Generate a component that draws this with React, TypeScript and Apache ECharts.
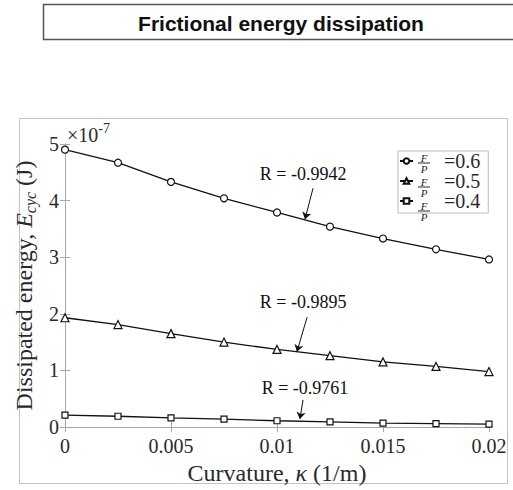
import React, { useEffect, useRef } from "react";
import * as echarts from "echarts";

const curvature = [0, 0.0025, 0.005, 0.0075, 0.01, 0.0125, 0.015, 0.0175, 0.02];
const energy06 = [4.9, 4.67, 4.33, 4.04, 3.79, 3.54, 3.33, 3.14, 2.96];
const energy05 = [1.93, 1.81, 1.65, 1.5, 1.37, 1.26, 1.15, 1.07, 0.98];
const energy04 = [0.21, 0.19, 0.16, 0.14, 0.11, 0.09, 0.07, 0.06, 0.05];
const ratioLabels = ["=0.6", "=0.5", "=0.4"];
const seriesNames = ["F/P =0.6", "F/P =0.5", "F/P =0.4"];
const rLabels = ["R = -0.9942", "R = -0.9895", "R = -0.9761"];
// annotation anchors in data space: text, arrow start, arrow end
const rText = [[0.01123, 4.47], [0.01123, 2.21], [0.01132, 0.69]];
const rArrowFrom = [[0.0117, 4.22], [0.01142, 1.94], [0.01123, 0.48]];
const rArrowTo = [[0.01132, 3.67], [0.01094, 1.33], [0.01108, 0.14]];

const SERIF = "Liberation Serif";
const INK = "#111";
const AX = "#a8a8a8";
const LABEL = "#2a2a2a";

export default function App() {
  const ref = useRef<HTMLDivElement>(null);
  useEffect(() => {
    document.body.style.margin = "0";
    const chart = echarts.init(ref.current!, null, { renderer: "svg" });
    const allSeries = [energy06, energy05, energy04];
    const symbols = ["circle", "triangle", "rect"];
    const sizes = [7, 8, 6];
    const series: any[] = allSeries.map((vals, i) => ({
      name: seriesNames[i],
      type: "line",
      data: curvature.map((x, j) => [x, vals[j]]),
      symbol: symbols[i],
      symbolSize: sizes[i],
      showSymbol: true,
      lineStyle: { color: INK, width: 1.3 },
      itemStyle: { color: "#fff", borderColor: INK, borderWidth: 1.2 },
      z: 3,
      markLine: {
        silent: true,
        symbol: ["none", "arrow"],
        symbolSize: 7,
        label: { show: false },
        lineStyle: { color: INK, width: 1, type: "solid" },
        data: [[{ coord: rArrowFrom[i] }, { coord: rArrowTo[i] }]],
      },
      markPoint: {
        silent: true,
        symbol: "circle",
        symbolSize: 1,
        itemStyle: { color: "transparent" },
        label: {
          show: true,
          position: "inside",
          formatter: rLabels[i],
          fontFamily: SERIF,
          fontSize: 18,
          color: INK,
        },
        data: [{ coord: rText[i] }],
      },
    }));

    const fracGraphics: any[] = [];
    [0, 1, 2].forEach((i) => {
      const cy = 163 + 24 * i;
      fracGraphics.push(
        { type: "text", z: 200, x: 424, y: cy - 5.5, style: { text: "F", font: `italic 11px "${SERIF}"`, fill: LABEL, align: "center", verticalAlign: "middle" } },
        { type: "line", z: 200, shape: { x1: 418, y1: cy, x2: 430, y2: cy }, style: { stroke: LABEL, lineWidth: 1 } },
        { type: "text", z: 200, x: 424, y: cy + 6, style: { text: "P", font: `italic 11px "${SERIF}"`, fill: LABEL, align: "center", verticalAlign: "middle" } }
      );
    });

    const axisCommon = {
      axisLine: { show: true, lineStyle: { color: AX, width: 1 } },
      axisTick: { show: true, inside: true, length: 5, lineStyle: { color: AX } },
      splitLine: { show: false },
    };

    chart.setOption({
      animation: false,
      backgroundColor: "#fff",
      grid: { left: 65, top: 144, width: 424, height: 283 },
      legend: {
        orient: "vertical",
        left: 398,
        top: 151,
        padding: [0, 8, 2, 1],
        itemGap: 0,
        itemWidth: 13,
        itemHeight: 7,
        itemTextGap: 3,
        borderColor: "#bbb",
        borderWidth: 1,
        backgroundColor: "#fff",
        z: 100,
        data: seriesNames,
        formatter: (name: string) => `{g|}{v|${ratioLabels[seriesNames.indexOf(name)]}}`,
        textStyle: {
          rich: {
            g: { width: 26 },
            v: { fontFamily: SERIF, fontSize: 20, color: LABEL, lineHeight: 24 },
          },
        },
      },
      xAxis: [
        {
          type: "value",
          position: "bottom",
          min: 0,
          max: 0.02,
          interval: 0.005,
          ...axisCommon,
          axisLabel: {
            fontFamily: SERIF,
            fontSize: 20,
            color: LABEL,
            margin: 9,
            formatter: (v: number) => String(Math.round(v * 1000) / 1000),
          },
          name: "{n|Curvature, }{i|κ}{n| (1/m)}",
          nameLocation: "middle",
          nameGap: 33,
          nameTextStyle: {
            rich: {
              n: { fontFamily: SERIF, fontSize: 24, color: LABEL },
              i: { fontFamily: SERIF, fontSize: 24, fontStyle: "italic", color: LABEL },
            },
          },
        },
        {
          type: "value",
          position: "top",
          min: 0,
          max: 0.02,
          interval: 0.005,
          ...axisCommon,
          axisLabel: { show: false },
        },
      ],
      yAxis: [
        {
          type: "value",
          position: "left",
          min: 0,
          max: 5,
          interval: 1,
          ...axisCommon,
          axisLabel: { fontFamily: SERIF, fontSize: 20, color: LABEL, margin: 6 },
          name: "{n|Dissipated energy, }{i|E}{s|cyc}{n| (J)}",
          nameLocation: "middle",
          nameGap: 25,
          nameTextStyle: {
            rich: {
              n: { fontFamily: SERIF, fontSize: 24, color: LABEL, lineHeight: 28 },
              i: { fontFamily: SERIF, fontSize: 24, fontStyle: "italic", color: LABEL, lineHeight: 28 },
              s: { fontFamily: SERIF, fontSize: 16, fontStyle: "italic", color: LABEL, verticalAlign: "bottom", lineHeight: 16 },
            },
          },
        },
        {
          type: "value",
          position: "right",
          min: 0,
          max: 5,
          interval: 1,
          ...axisCommon,
          axisLabel: { show: false },
        },
      ],
      series,
      graphic: [
        {
          type: "rect",
          z: -10,
          silent: true,
          shape: { x: 19.5, y: 118.5, width: 488, height: 365 },
          style: { fill: "none", stroke: "#c4c4c4", lineWidth: 1 },
        },
        {
          type: "rect",
          z: 10,
          silent: true,
          shape: { x: 43.5, y: 4.5, width: 480, height: 35 },
          style: { fill: "#fff", stroke: "#555", lineWidth: 1.5 },
        },
        {
          type: "text",
          z: 11,
          x: 281,
          y: 23,
          style: {
            text: "Frictional energy dissipation",
            font: 'bold 21px "Liberation Sans"',
            fill: "#111",
            align: "center",
            verticalAlign: "middle",
          },
        },
        {
          type: "text",
          z: 11,
          x: 67,
          y: 121,
          style: {
            text: "{a|×10}{b|-7}",
            rich: {
              a: { fontFamily: SERIF, fontSize: 20, fill: LABEL, lineHeight: 24, verticalAlign: "bottom" },
              b: { fontFamily: SERIF, fontSize: 14, fill: LABEL, lineHeight: 14, verticalAlign: "top" },
            },
          },
        },
        ...fracGraphics,
      ],
    });
    return () => chart.dispose();
  }, []);
  return <div ref={ref} style={{ width: 513, height: 490 }} />;
}
